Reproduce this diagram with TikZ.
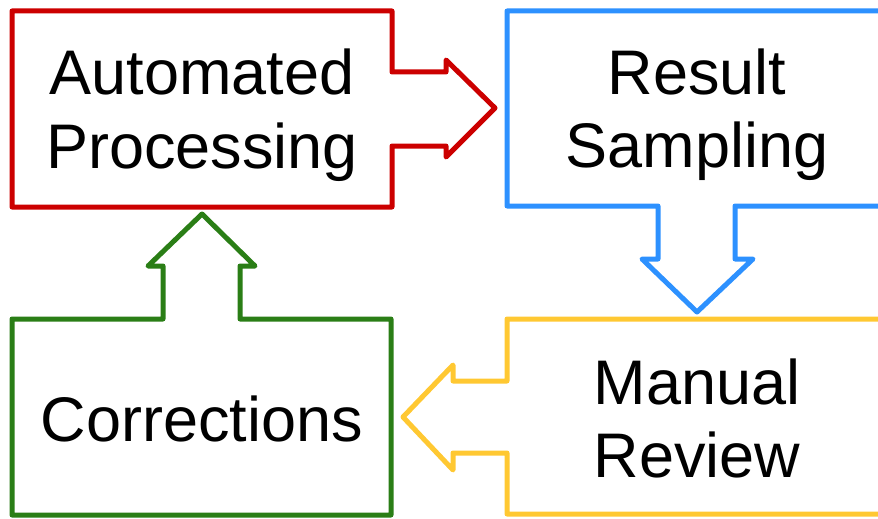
\documentclass[tikz,border=0pt]{standalone}
\usepackage{fontspec}
\setmainfont{Liberation Sans}
\definecolor{cred}{RGB}{204,0,0}
\definecolor{cblue}{RGB}{45,145,255}
\definecolor{cyellow}{RGB}{255,200,50}
\definecolor{cgreen}{RGB}{42,126,22}
\begin{document}
\begin{tikzpicture}[x=1pt,y=-1pt,
  shapeline/.style={line width=5pt,line join=round},
  lbl/.style={anchor=base,inner sep=0pt,font=\fontsize{63}{73}\selectfont}]
\useasboundingbox[clip] (0,0) rectangle (878,519);
% red: box with right arrow
\draw[shapeline,cred] (12,11) -- (392,11) -- (392,72) -- (446,72) -- (446,60) -- (495,108)
  -- (446,157) -- (446,146) -- (392,146) -- (392,207) -- (12,207) -- cycle;
% blue: box with down arrow
\draw[shapeline,cblue] (507,11) -- (887,11) -- (887,206) -- (735,206) -- (735,259) -- (753,259)
  -- (697,312) -- (642,259) -- (658,259) -- (658,206) -- (507,206) -- cycle;
% yellow: box with left arrow
\draw[shapeline,cyellow] (507,319) -- (887,319) -- (887,514) -- (507,514) -- (507,453) -- (453,453)
  -- (453,470) -- (403,417) -- (453,365) -- (453,381) -- (507,381) -- cycle;
% green: box with up arrow
\draw[shapeline,cgreen] (12,319) -- (163,319) -- (163,266) -- (148,266) -- (202,214) -- (255,266)
  -- (240,266) -- (240,319) -- (391,319) -- (391,515) -- (12,515) -- cycle;
% labels
\node[lbl] (ap1) at (202,95) {Automated};
\node[lbl] (ap2) at (202,168) {Processing};
\node[lbl] (rs1) at (697,95) {Result};
\node[lbl] (rs2) at (697,167) {Sampling};
\node[lbl] (mr1) at (697,404) {Manual};
\node[lbl] (mr2) at (697,477) {Review};
\node[lbl] (co) at (202,441) {Corrections};
\end{tikzpicture}
\end{document}
